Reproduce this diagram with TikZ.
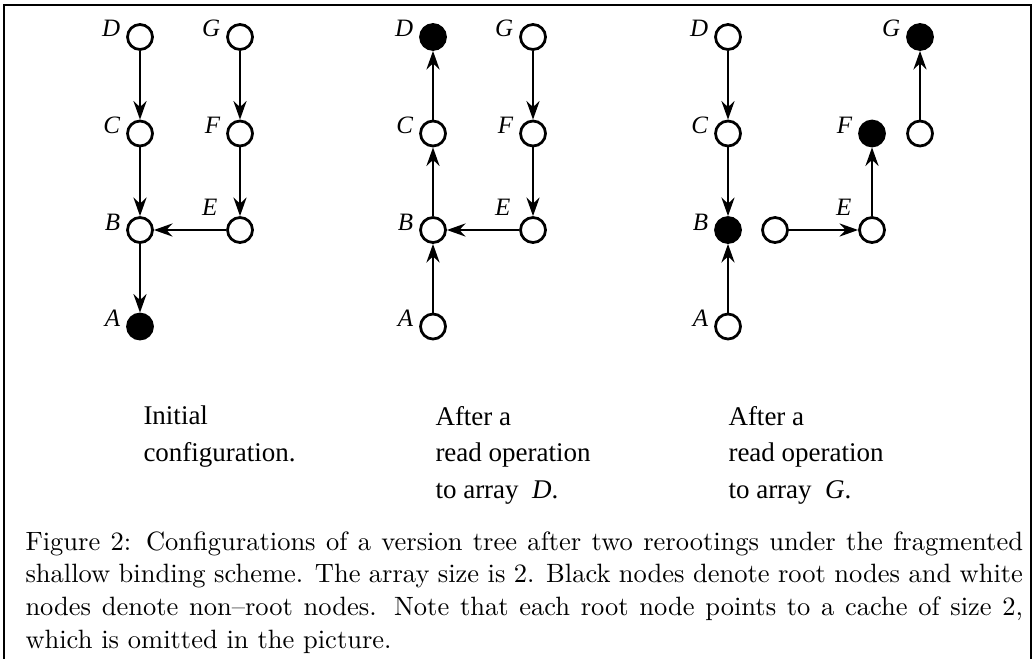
\documentclass[tikz,border=0pt]{standalone}
\usepackage{fontspec}
\usepackage{tikz}
\usetikzlibrary{arrows.meta, positioning}
\newfontfamily\timesfont{Liberation Serif}

\begin{document}
\begin{tikzpicture}[
	x=0.4pt, y=-0.4pt,
	node distance=38.6pt and 40pt, on grid,
	vertex/.style={circle, draw=black, line width=1.1pt, fill=white,
		inner sep=0pt, minimum size=10pt},
	rootvertex/.style={vertex, fill=black},
	vlabel/.style={anchor=base east, inner sep=0pt, label distance=2.2pt,
		font=\fontsize{10}{10}\timesfont\itshape},
	pointer/.style={-{Stealth[length=7.4pt, width=5.2pt, inset=2.4pt]}, line width=1.1pt},
	paneltext/.style={anchor=base west, align=left, inner sep=0pt,
		font=\fontsize{10.8}{14.6}\timesfont},
	captiontext/.style={anchor=base west, text width=399pt, align=justify,
		inner sep=0pt, font=\fontsize{10.6}{13.1}\selectfont}
	]
	\useasboundingbox (0,0) rectangle (1032,659);
	
	% Frame (open at the bottom)
	\draw[line width=0.8pt] (4,680) -- (4,5) -- (1031,5) -- (1031,680);
	
	% Panel 1: initial configuration
	\node[vertex] (D1) at (140,37) [label={[vlabel]west:D}] {};
	\node[vertex] (G1) [right=of D1, label={[vlabel]west:G}] {};
	\node[vertex] (C1) [below=of D1, label={[vlabel]west:C}] {};
	\node[vertex] (F1) [below=of G1, label={[vlabel]west:F}] {};
	\node[vertex] (B1) [below=of C1, label={[vlabel]west:B}] {};
	\node[vertex] (E1) [below=of F1, label={[vlabel, xshift=-3.4pt, yshift=0.2pt]north west:E}] {};
	\node[rootvertex] (A1) [below=of B1, label={[vlabel]west:A}] {};
	
	\draw[pointer] (D1) -- (C1);
	\draw[pointer] (C1) -- (B1);
	\draw[pointer] (B1) -- (A1);
	\draw[pointer] (G1) -- (F1);
	\draw[pointer] (F1) -- (E1);
	\draw[pointer] (E1) -- (B1);
	
	% Panel 2: after a read to D
	\node[rootvertex] (D2) at (433,37) [label={[vlabel]west:D}] {};
	\node[vertex] (G2) [right=of D2, label={[vlabel]west:G}] {};
	\node[vertex] (C2) [below=of D2, label={[vlabel]west:C}] {};
	\node[vertex] (F2) [below=of G2, label={[vlabel]west:F}] {};
	\node[vertex] (B2) [below=of C2, label={[vlabel]west:B}] {};
	\node[vertex] (E2) [below=of F2, label={[vlabel, xshift=-3.4pt, yshift=0.2pt]north west:E}] {};
	\node[vertex] (A2) [below=of B2, label={[vlabel]west:A}] {};
	
	\draw[pointer] (C2) -- (D2);
	\draw[pointer] (B2) -- (C2);
	\draw[pointer] (A2) -- (B2);
	\draw[pointer] (G2) -- (F2);
	\draw[pointer] (F2) -- (E2);
	\draw[pointer] (E2) -- (B2);
	
	% Panel 3: after a read to G
	\node[vertex] (D3) at (728,37) [label={[vlabel]west:D}] {};
	\node[vertex] (C3) [below=of D3, label={[vlabel]west:C}] {};
	\node[rootvertex] (B3) [below=of C3, label={[vlabel]west:B}] {};
	\node[vertex] (A3) [below=of B3, label={[vlabel]west:A}] {};
	\node[vertex] (X3) [right=18.8pt of B3] {};
	\node[vertex] (E3) [right=57.6pt of B3, label={[vlabel, xshift=-2.6pt, yshift=0.2pt]north west:E}] {};
	\node[rootvertex] (F3) [above=of E3, label={[vlabel]west:F}] {};
	\node[vertex] (H3) [right=19.2pt of F3] {};
	\node[rootvertex] (G3) [above=of H3, label={[vlabel]west:G}] {};
	
	\draw[pointer] (D3) -- (C3);
	\draw[pointer] (C3) -- (B3);
	\draw[pointer] (A3) -- (B3);
	\draw[pointer] (X3) -- (E3);
	\draw[pointer] (E3) -- (F3);
	\draw[pointer] (H3) -- (G3);
	
	% Panel texts (base = last line)
	\node[paneltext] (T1) at (143,461) {Initial\\configuration.};
	\node[paneltext] (T2) at (435,498) {After a\\read operation\\to array \ \textit{D}.};
	\node[paneltext] (T3) at (728,498) {After a\\read operation\\to array \ \textit{G}.};
	
	% Caption
	\node[captiontext] (cap) at (25,550) {Figure 2: Configurations of a version tree after two rerootings under the fragmented\linebreak
		shallow binding scheme. The array size is 2. Black nodes denote root nodes and white\linebreak
		nodes denote non--root nodes. Note that each root node points to a cache of size 2,\linebreak
		which is omitted in the picture.};
	
\end{tikzpicture}
\end{document}
